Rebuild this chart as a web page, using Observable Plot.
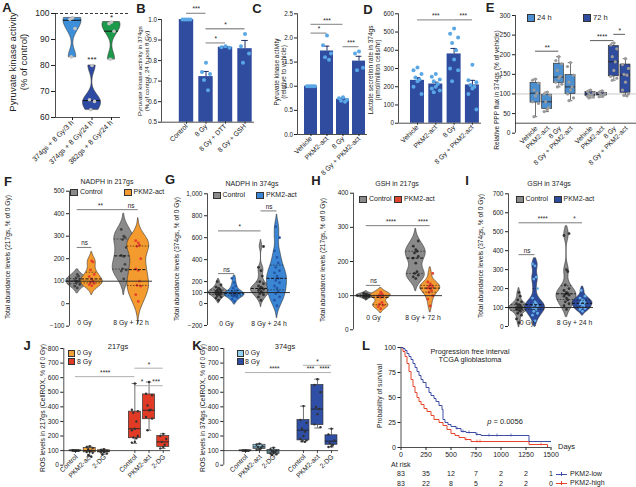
<!DOCTYPE html>
<html><head><meta charset="utf-8">
<script src="https://cdn.jsdelivr.net/npm/d3@7"></script>
<script src="https://cdn.jsdelivr.net/npm/@observablehq/plot@0.6"></script>
<style>
body{margin:0;background:#fff;}
#fig{position:relative;width:636px;height:487px;overflow:hidden;background:#fff;font-family:"Liberation Sans",Arial,Helvetica,sans-serif;color:#222;}
#fig svg{position:absolute;left:0;top:0;overflow:visible;}
.t{position:absolute;white-space:pre;line-height:1.12;text-align:center;}
.sw{position:absolute;box-sizing:border-box;border:0.7px solid #333;}
</style></head><body><div id="fig"></div><script>
// ================= DATA =================
// A
const aCats = ["374gs + 8 Gy/3 h", "374gs + 8 Gy/24 h", "382gs + 8 Gy/24 h"];
const aPoints = [[98.3, 97.8, 94.2, 83.3], [80, 66.8, 66.2, 63], [96.7, 96.1, 93.2, 82.4]];
const aMedian = [97.4, 66.5, 93.2];
const aStars = ["", "***", "*"];
const aStarY = [0, 82.8, 99];
// B
const bCats = ["Control", "8 Gy", "8 Gy + DTT", "8 Gy + GSH"];
const bMeans = [1.0, 0.722, 0.865, 0.858];
const bErr = [0, 0.025, 0.004, 0.04];
const bPoints = [[1, 1, 1, 1, 1], [0.79, 0.745, 0.735, 0.705, 0.655], [0.87, 0.865, 0.862], [0.93, 0.87, 0.835, 0.79]];
const bSig = [[0, 1, 1.03, "***"], [1, 2, 0.886, "*"], [1, 3, 0.955, "*"]];
// C
const cCats = ["Vehicle", "PKM2-act", "8 Gy", "8 Gy + PKM2-act"];
const cMeans = [1.0, 1.73, 0.73, 1.52];
const cErr = [0, 0.1, 0.02, 0.1];
const cPoints = [[1, 1, 1, 1, 1], [2.05, 1.85, 1.68, 1.6, 1.55], [0.77, 0.75, 0.72, 0.7, 0.68], [1.72, 1.68, 1.38, 1.33]];
const cSig = [[0, 1, 2.1, "*"], [0, 2, 2.28, "***"], [2, 3, 1.82, "***"]];
// D
const dCats = ["Vehicle", "PKM2-act", "8 Gy", "8 Gy + PKM2-act"];
const dMeans = [235, 215, 380, 210];
const dErr = [15, 10, 30, 25];
const dPoints = [[305, 290, 270, 250, 240, 230, 200, 160], [270, 255, 240, 230, 215, 200, 190, 180, 170], [520, 490, 470, 440, 400, 350, 300, 290, 230], [320, 235, 225, 210, 200, 190, 160, 75]];
const dSig = [[0, 2, 567, "***"], [2, 3, 567, "***"]];
// E
const eCats = ["Vehicle", "PKM2-act", "8 Gy", "8 Gy + PKM2-act"];
const eGroups = ["24 h", "72 h"];
const eMin = [42, 55, 118, 83, 90, 92, 135, 95];
const eQ1 = [78, 62, 128, 100, 95, 96, 145, 103];
const eMed = [102, 80, 143, 118, 100, 99, 182, 148];
const eQ3 = [128, 98, 177, 148, 105, 103, 222, 175];
const eMax = [138, 105, 195, 180, 110, 108, 230, 190];
const ePoints = [[138, 135, 128, 110, 102, 95, 80, 76, 42], [105, 100, 97, 80, 65, 60, 55], [195, 185, 177, 160, 145, 140, 130, 125, 118], [180, 170, 148, 130, 118, 110, 100, 90, 83],
  [110, 106, 103, 100, 98, 96, 94, 92, 90], [108, 104, 101, 99, 97, 95, 93], [230, 225, 215, 195, 182, 160, 145, 140, 135], [190, 175, 165, 150, 148, 130, 110, 100, 97, 95]];
const eSig = [[0, 2, 209, "**"], [4, 6, 236, "****"], [6, 7, 252, "*"]];
// F-I (violins: 0 Gy Control, 0 Gy PKM2-act, 8 Gy Control, 8 Gy PKM2-act)
const series2 = ["Control", "PKM2-act"];
const groups72 = ["0 Gy", "8 Gy + 72 h"];
const groups24 = ["0 Gy", "8 Gy + 24 h"];
const fPoints = [[70, 78, 85, 92, 98, 100, 104, 108, 115, 122, 130], [80, 85, 90, 95, 100, 110, 120, 130, 150, 185, 190],
  [110, 145, 150, 155, 175, 210, 215, 250, 285, 295, 300, 330], [10, 40, 78, 82, 100, 148, 155, 200, 255, 260, 270, 280]];
const fSig = [[0, 1, 250, "ns"], [0, 2, 418, "**"], [2, 3, 418, "ns"]];
const gPoints = [[30, 50, 60, 70, 80, 85, 90, 95, 100, 100, 105, 110, 115, 120, 130, 140, 150, 170, 200], [20, 40, 55, 65, 70, 75, 80, 85, 90, 95, 100, 110, 120, 140, 160, 190, 230],
  [30, 60, 80, 90, 100, 110, 120, 130, 135, 140, 150, 160, 180, 200, 250, 300, 330, 520], [-20, 30, 60, 90, 110, 140, 160, 190, 210, 230, 250, 280, 300, 330, 370, 420, 480, 600, 700]];
const gSig = [[0, 1, 273, "ns"], [0, 2, 662, "*"], [2, 3, 844, "ns"]];
const hPoints = [[92, 95, 97, 98, 99, 100, 100, 101, 102, 103, 105, 107], [62, 68, 72, 75, 80, 95, 98, 100, 102, 105, 110],
  [150, 155, 160, 165, 170, 195, 210, 215, 225, 230, 235, 245, 260], [70, 90, 100, 110, 115, 120, 122, 125, 128, 130, 135, 140, 165]];
const hSig = [[0, 1, 130, "ns"], [0, 2, 305, "****"], [2, 3, 305, "****"]];
const iPoints = [[20, 40, 60, 70, 80, 85, 90, 92, 95, 98, 100, 100, 102, 105, 110, 115, 120, 130, 140, 160, 180], [30, 60, 70, 80, 90, 95, 100, 110, 115, 120, 130, 150, 200, 250, 260, 320, 330],
  [90, 110, 120, 130, 140, 150, 160, 165, 170, 175, 180, 190, 200, 220, 290, 300, 480, 490], [80, 90, 95, 100, 110, 115, 120, 125, 130, 135, 140, 150, 160, 190]];
const iSig = [[0, 1, 379, "ns"], [0, 2, 547, "****"], [2, 3, 547, "*"]];
// J, K
const roCats = ["Control", "PKM2-act", "2-DG"];
const roDoses = ["0 Gy", "8 Gy"];
const jMin = [95, 60, 75, 150, 240, 115];
const jQ1 = [98, 88, 88, 185, 315, 125];
const jMed = [100, 100, 95, 250, 377, 160];
const jQ3 = [102, 118, 102, 367, 485, 200];
const jMax = [105, 130, 110, 560, 570, 215];
const jPoints = [[100, 100, 99, 101, 100, 98, 102, 100], [130, 125, 118, 110, 100, 95, 90, 85, 70, 60], [110, 105, 100, 98, 95, 90, 88, 80, 75],
  [560, 380, 370, 360, 300, 250, 240, 200, 190, 185, 160, 155], [570, 490, 480, 410, 380, 375, 330, 320, 240], [215, 200, 180, 160, 140, 125, 115]];
const jSig = [[0, 3, 607, "****"], [3, 4, 545, "*"], [4, 5, 545, "***"], [3, 5, 665, "*"]];
const kMin = [96, 105, 70, 160, 255, 125];
const kQ1 = [98, 112, 78, 170, 275, 140];
const kMed = [100, 125, 90, 240, 385, 165];
const kQ3 = [102, 140, 105, 310, 550, 205];
const kMax = [104, 148, 120, 405, 590, 250];
const kPoints = [[100, 100, 99, 101, 100, 100], [148, 140, 130, 125, 118, 110, 105], [120, 110, 100, 95, 90, 85, 80, 75, 70],
  [405, 310, 290, 250, 230, 200, 180, 170, 165, 160], [590, 550, 500, 400, 385, 350, 280, 260], [250, 210, 170, 150, 140, 130, 125]];
const kSig = [[0, 3, 635, "****"], [3, 4, 635, "***"], [4, 5, 635, "****"], [3, 5, 685, "*"]];
// L
const kmLowDays = [0, 20, 40, 60, 80, 100, 120, 140, 160, 180, 200, 220, 250, 280, 300, 330, 350, 380, 410, 420, 440, 470, 500, 550, 600, 650, 750, 800, 1280, 1500];
const kmLowSurv = [100, 99, 97, 94, 91, 88, 84, 80, 76, 72, 68, 65, 60, 55, 52, 49, 46, 42, 38, 28, 25, 23, 21, 19, 16, 15, 13, 12, 6, 6];
const kmHighDays = [0, 20, 40, 60, 80, 100, 120, 140, 160, 180, 200, 230, 260, 300, 330, 380, 420, 460, 500, 540, 580, 640, 700, 1280, 1465];
const kmHighSurv = [100, 96, 91, 84, 76, 68, 61, 55, 50, 46, 43, 39, 36, 32, 28, 25, 22, 18, 14, 12, 10, 8, 6, 3, 0];
const kmLowCensor = [560, 620, 680, 760, 880, 960, 1100];
const kmHighCensor = [650, 760, 790, 1400];
const riskDays = [0, 250, 500, 750, 1000, 1250, 1500];
const riskLow = [83, 35, 12, 7, 2, 2, 1];
const riskHigh = [83, 22, 8, 5, 2, 2, 0];

// ================= HELPERS =================
const W = 636, H = 487;
const FONT = '"Liberation Sans", Arial, Helvetica, sans-serif';
const fig = document.getElementById("fig");
const jit = k => [0, -1, 1, -0.5, 0.5][k % 5];

function plotAt(frame, xd, yd, marks, fs = 6.5) {
  const [x0, y0, x1, y1] = frame;
  const svg = Plot.plot({
    width: W, height: H,
    marginLeft: x0, marginRight: W - x1, marginTop: y0, marginBottom: H - y1,
    x: {domain: xd, axis: null},
    y: {domain: yd, axis: null},
    style: {background: "transparent", overflow: "visible", fontFamily: FONT, fontSize: fs + "px", color: "#222"},
    marks: marks.flat()
  });
  svg.style.position = "absolute"; svg.style.left = "0px"; svg.style.top = "0px";
  fig.appendChild(svg);
}
function txt(s, x, y, o = {}) {
  const d = document.createElement("div");
  d.className = "t";
  d.textContent = s;
  d.style.left = x + "px"; d.style.top = y + "px";
  d.style.fontSize = (o.size || 7) + "px";
  if (o.bold) d.style.fontWeight = "bold";
  if (o.lh) d.style.lineHeight = o.lh;
  const tx = o.anchor === "start" ? "0" : o.anchor === "end" ? "-100%" : "-50%";
  d.style.transform = `translate(${tx},-50%)` + (o.rot ? " rotate(-90deg)" : "");
  if (o.html) d.innerHTML = s;
  fig.appendChild(d);
}
function sw(cx, cy, color, w = 8, h = 7) {
  const d = document.createElement("div");
  d.className = "sw";
  Object.assign(d.style, {left: (cx - w / 2) + "px", top: (cy - h / 2) + "px", width: w + "px", height: h + "px", background: color});
  fig.appendChild(d);
}
function lin(x0, x1, c0, step) { return [(x0 - c0) / step, (x1 - c0) / step]; }
function dens(vals, bw, y) { let s = 0; for (const v of vals) { const z = (y - v) / bw; s += Math.exp(-0.5 * z * z); } return s; }
function violin(vals, pos, hw, bw, ext, fill) {
  const lo = d3.min(vals) - ext * bw, hi = d3.max(vals) + ext * bw, n = 90;
  const pts = d3.range(n + 1).map(k => { const y = lo + (hi - lo) * k / n; return {y, d: dens(vals, bw, y)}; });
  const m = d3.max(pts, p => p.d);
  return {
    mark: Plot.areaX(pts, {y: "y", x1: p => pos - hw * p.d / m, x2: p => pos + hw * p.d / m, fill, stroke: "#333", strokeWidth: 0.6}),
    at: y => dens(vals, bw, y) / m
  };
}
function sigMarks(list, pos, stroke, sw, fs, dy = -3.5) {
  return [
    Plot.ruleY(list, {y: d => d[2], x1: d => pos(d[0]), x2: d => pos(d[1]), stroke, strokeWidth: sw}),
    Plot.text(list, {x: d => (pos(d[0]) + pos(d[1])) / 2, y: d => d[2], text: d => d[3], dy, fontSize: fs, fill: "#222"})
  ];
}

// ================= PANEL A =================
{
  const frame = [55, 13, 120, 117], step = 19.5;
  const xd = lin(frame[0], frame[2], 72, step);
  const hw = 9 / step;
  const colors = ["#3d8fd9", "#2e4aa3", "#1c9a4b"];
  const marks = [];
  aPoints.forEach((vals, i) => {
    const v = violin(vals, i, hw, 2.6, 0, colors[i]);
    marks.push(v.mark);
    const w = hw * v.at(aMedian[i]);
    marks.push(Plot.ruleY([aMedian[i]], {x1: i - w, x2: i + w, stroke: "#111", strokeWidth: 1}));
    marks.push(Plot.dot(vals, {x: (d, k) => i + jit(k) * 2.5 / step, y: d => d, r: 1.8, fill: "#c4c4c4"}));
  });
  marks.push(Plot.ruleY([100], {x1: xd[0], x2: (128 - 72) / step, stroke: "#222", strokeWidth: 0.9, strokeDasharray: "3,2"}));
  marks.push(Plot.ruleX([xd[0]], {y1: 60, y2: 100, stroke: "#222", strokeWidth: 0.8}));
  marks.push(Plot.ruleY([60], {x1: xd[0], x2: xd[1], stroke: "#222", strokeWidth: 0.8}));
  marks.push(Plot.axisY({ticks: [60, 70, 80, 90, 100], tickSize: 4, tickPadding: 2, fontSize: 8.5, label: null}));
  marks.push(Plot.axisX({ticks: [0, 1, 2], tickFormat: i => aCats[i], tickRotate: -45, tickSize: 3, tickPadding: 1, fontSize: 7.2, label: null}));
  marks.push(Plot.text(aStars, {x: (d, i) => i, y: (d, i) => aStarY[i], text: d => d, fontSize: 8, dy: 1}));
  plotAt(frame, xd, [60, 100], marks, 8);
  txt("Pyruvate kinase activity\n(% of control)", 19, 62, {size: 9.5, rot: true});
  txt("A", 7, 8, {size: 13, bold: true});
}

// ================= BAR PANELS B, C, D =================
function barPanel(c) {
  const xd = lin(c.frame[0], c.frame[2], c.c0, c.step);
  const h = c.bw / c.step;
  const pos = i => i;
  const idx = c.cats.map((_, i) => i);
  const marks = [
    Plot.rect(idx, {x1: i => i - h, x2: i => i + h, y1: c.yd[0], y2: i => c.means[i], fill: "#2f4c9f"}),
    Plot.ruleX(idx.filter(i => c.err[i] > 0), {x: i => i, y1: i => c.means[i], y2: i => c.means[i] + c.err[i], stroke: "#1e2f66", strokeWidth: 1}),
    Plot.ruleY(idx.filter(i => c.err[i] > 0), {y: i => c.means[i] + c.err[i], x1: i => i - h * 0.45, x2: i => i + h * 0.45, stroke: "#1e2f66", strokeWidth: 1}),
  ];
  c.points.forEach((vals, i) => marks.push(Plot.dot(vals, {x: (d, k) => i + jit(k) * 4 / c.step, y: d => d, r: 2, fill: "#5aa7e6"})));
  marks.push(sigMarks(c.sig, pos, "#9a9a9a", 1.3, 6.5, -4));
  marks.push(Plot.ruleX([xd[0]], {y1: c.yd[0], y2: c.yd[1], stroke: "#222", strokeWidth: 0.8}));
  marks.push(Plot.ruleY([c.yd[0]], {x1: xd[0], x2: xd[1], stroke: "#222", strokeWidth: 0.8}));
  marks.push(Plot.axisY({ticks: c.ticks, tickFormat: c.fmt, tickSize: 3, tickPadding: 1.5, fontSize: 6.3, label: null}));
  marks.push(Plot.axisX({ticks: idx, tickFormat: i => c.cats[i], tickRotate: -45, tickSize: 2, tickPadding: 1, fontSize: 6.8, label: null}));
  plotAt(c.frame, xd, c.yd, marks);
  txt(c.ylab, c.ylabXY[0], c.ylabXY[1], {size: c.ylabSize, rot: true, lh: 1.08});
  txt(c.letter, c.letterXY[0], c.letterXY[1], {size: 13, bold: true});
}
barPanel({cats: bCats, means: bMeans, err: bErr, points: bPoints, sig: bSig, frame: [161, 19, 254, 121.7], c0: 186, step: 19.5, bw: 7.2,
  yd: [0.5, 1.0], ticks: [0.5, 0.6, 0.7, 0.8, 0.9, 1.0], fmt: d3.format(".1f"),
  ylab: "Pyruvate kinase activity in 374gs\n(% of control, 24 h post 8 Gy)", ylabXY: [144, 71], ylabSize: 6.2, letter: "B", letterXY: [141, 9]});
barPanel({cats: cCats, means: cMeans, err: cErr, points: cPoints, sig: cSig, frame: [297, 13.3, 367, 134], c0: 310.5, step: 16, bw: 6.5,
  yd: [0, 2.5], ticks: [0, 0.5, 1, 1.5, 2, 2.5], fmt: d3.format(".1f"),
  ylab: "Pyruvate kinase activity\n(relative to vehicle)", ylabXY: [281, 72], ylabSize: 6.4, letter: "C", letterXY: [257, 9]});
barPanel({cats: dCats, means: dMeans, err: dErr, points: dPoints, sig: dSig, frame: [398, 13.3, 481, 122.7], c0: 417, step: 18.3, bw: 7,
  yd: [0, 600], ticks: [0, 100, 200, 300, 400, 500, 600], fmt: d3.format("d"),
  ylab: "Lactate secretion rate in 374gs\n(nmol/million cells/hr)", ylabXY: [374, 70], ylabSize: 6.5, letter: "D", letterXY: [368, 10]});

// ================= BOX PANELS E, J, K =================
function boxPanel(c) {
  const xd = lin(c.frame[0], c.frame[2], c.c0, c.step);
  const n = c.cats.length;
  const pos = k => k < n ? k : k + c.gap;
  const idx = c.min.map((_, k) => k);
  const h = c.bw / c.step, cap = h * 0.45;
  const fillOf = k => c.colors[k < n ? 0 : 1];
  const marks = [];
  if (c.refLine) marks.push(Plot.ruleY([100], {x1: xd[0], x2: xd[1], stroke: "#bbb", strokeWidth: 0.8}));
  marks.push(
    Plot.ruleX(idx, {x: pos, y1: k => c.min[k], y2: k => c.q1[k], stroke: "#333", strokeWidth: 0.7}),
    Plot.ruleX(idx, {x: pos, y1: k => c.q3[k], y2: k => c.max[k], stroke: "#333", strokeWidth: 0.7}),
    Plot.ruleY(idx, {y: k => c.min[k], x1: k => pos(k) - cap, x2: k => pos(k) + cap, stroke: "#333", strokeWidth: 0.7}),
    Plot.ruleY(idx, {y: k => c.max[k], x1: k => pos(k) - cap, x2: k => pos(k) + cap, stroke: "#333", strokeWidth: 0.7}),
    Plot.rect(idx, {x1: k => pos(k) - h, x2: k => pos(k) + h, y1: k => c.q1[k], y2: k => c.q3[k], fill: fillOf, stroke: "#333", strokeWidth: 0.7}),
    Plot.ruleY(idx, {y: k => c.med[k], x1: k => pos(k) - h, x2: k => pos(k) + h, stroke: "#222", strokeWidth: 0.9})
  );
  c.points.forEach((vals, k) => marks.push(Plot.dot(vals, {x: (d, i) => pos(k) + jit(i) * 3 / c.step, y: d => d, r: c.dotR, fill: c.dotFill})));
  marks.push(sigMarks(c.sig, pos, c.sigStroke, c.sigW, 6.5, -3.5));
  marks.push(Plot.ruleX([xd[0]], {y1: c.yd[0], y2: c.yd[1], stroke: "#222", strokeWidth: 0.8}));
  marks.push(Plot.ruleY([c.axisAt], {x1: xd[0], x2: xd[1], stroke: "#222", strokeWidth: 0.8}));
  marks.push(Plot.ruleX(idx, {x: pos, y1: c.axisAt, y2: c.axisAt - c.tickLen, stroke: "#222", strokeWidth: 0.8}));
  marks.push(Plot.text(idx, {x: pos, y: c.axisAt, text: k => c.cats[k % n], rotate: -45, textAnchor: "end", dy: c.labDy, dx: 1, fontSize: 6.8}));
  marks.push(Plot.axisY({ticks: c.ticks, tickSize: 3, tickPadding: 2, fontSize: 6.6, label: null}));
  plotAt(c.frame, xd, c.yd, marks);
}
boxPanel({cats: eCats, min: eMin, q1: eQ1, med: eMed, q3: eQ3, max: eMax, points: ePoints, sig: eSig,
  frame: [515, 15, 636, 132.7], c0: 535, step: 11.67, gap: 0.71, bw: 5, colors: ["#4b8fd0", "#2f4c9f"],
  yd: [0, 300], ticks: [0, 50, 100, 150, 200, 250, 300], refLine: true, axisAt: 25.5, tickLen: 0, labDy: 4,
  dotR: 1.6, dotFill: "#9a9a9a", sigStroke: "#333", sigW: 0.8});
txt("Relative PPP flux in 374gs (% of vehicle)", 497, 90, {size: 6.6, rot: true});
txt("E", 490, 8, {size: 13, bold: true});
sw(530.5, 18.3, "#4b8fd0", 8, 8); txt("24 h", 537, 18.3, {size: 7.5, anchor: "start"});
sw(586.5, 18.3, "#2f4c9f", 8, 8); txt("72 h", 593, 18.3, {size: 7.5, anchor: "start"});

boxPanel({cats: roCats, min: jMin, q1: jQ1, med: jMed, q3: jQ3, max: jMax, points: jPoints, sig: jSig,
  frame: [63.3, 348, 170, 464.7], c0: 75, step: 14.2, gap: 1.18, bw: 6, colors: ["#f2a03a", "#e23b25"],
  yd: [0, 800], ticks: [0, 100, 200, 300, 400, 500, 600, 700, 800], refLine: false, axisAt: 100, tickLen: 20, labDy: 5,
  dotR: 1.2, dotFill: "#333", sigStroke: "#9a9a9a", sigW: 0.8});
txt("ROS levels in 217gs (CellROX, % of 0 Gy)", 43, 408, {size: 6.8, rot: true});
txt("J", 27, 346, {size: 13, bold: true});
txt("217gs", 118, 347, {size: 7.5});
sw(71.5, 353, "#f2a03a", 7, 7); txt("0 Gy", 77, 353, {size: 7, anchor: "start"});
sw(71.5, 361.5, "#e23b25", 7, 7); txt("8 Gy", 77, 361.5, {size: 7, anchor: "start"});

boxPanel({cats: roCats, min: kMin, q1: kQ1, med: kMed, q3: kQ3, max: kMax, points: kPoints, sig: kSig,
  frame: [223.3, 348, 338, 464.7], c0: 245, step: 14, gap: 1.14, bw: 6, colors: ["#8fd1ef", "#2f4ea5"],
  yd: [0, 800], ticks: [0, 100, 200, 300, 400, 500, 600, 700, 800], refLine: false, axisAt: 100, tickLen: 20, labDy: 5,
  dotR: 1.2, dotFill: "#333", sigStroke: "#9a9a9a", sigW: 0.8});
txt("ROS levels in 374gs (CellROX, % of 0 Gy)", 203, 408, {size: 6.8, rot: true});
txt("K", 197, 346, {size: 13, bold: true});
txt("374gs", 285, 347, {size: 7.5});
sw(240, 353, "#8fd1ef", 7, 7); txt("0 Gy", 245, 353, {size: 7, anchor: "start"});
sw(240, 361.5, "#2f4ea5", 7, 7); txt("8 Gy", 245, 361.5, {size: 7, anchor: "start"});

// ================= VIOLIN PANELS F-I =================
const row2 = [
  {letter: "F", title: "NADPH in 217gs", frame: [69, 190.7, 152, 325.7], g: [84, 130.5], off: 7.25, hw: 11, yd: [-100, 500], ticks: [-100, 0, 100, 200, 300, 400, 500],
    pts: fPoints, bw: [15, 20, 35, 40], ext: [1.5, 2, 2, 2.5], sig: fSig, groups: groups72, fills: ["#8a8a8a", "#f39b2f"], dots: ["#444", "#e5412b"], swatch: ["#8a8a8a", "#f39b2f"],
    labelY: 322, ylab: "Total abundance levels (217gs, % of 0 Gy)", ylabXY: [8, 257], titleXY: [107, 182], leg: [[74, 192], [127.5, 192]], letterXY: [8, 182]},
  {letter: "G", title: "NADPH in 374gs", frame: [207, 193.3, 290, 325], g: [226, 268.5], off: 8, hw: 10, yd: [-200, 1000], ticks: [-200, 0, 100, 200, 400, 600, 800, 1000],
    pts: gPoints, bw: [20, 22, 30, 55], ext: [1.2, 1.2, 2, 2], sig: gSig, groups: groups24, fills: ["#8a8a8a", "#3b86d4"], dots: ["#333", "#2457a8"], swatch: ["#8a8a8a", "#3b86d4"],
    labelY: 323, ylab: "Total abundance levels (374gs, % of 0 Gy)", ylabXY: [177, 259], titleXY: [252, 184], leg: [[216.5, 195], [260, 195]], letterXY: [170, 180]},
  {letter: "H", title: "GSH in 217gs", frame: [353, 192.7, 442, 329.3], g: [373, 422.5], off: 7.25, hw: 10, yd: [0, 400], ticks: [0, 100, 200, 300, 400],
    pts: hPoints, bw: [4, 8, 18, 12], ext: [1.5, 1.5, 2, 1.5], sig: hSig, groups: groups72, fills: ["#8a8a8a", "#f29a35"], dots: ["#333", "#e23f2a"], swatch: ["#8a8a8a", "#e2452d"],
    labelY: 317, ylab: "Total abundance levels (217gs, % of 0 Gy)", ylabXY: [323, 260], titleXY: [397, 184], leg: [[363, 199], [398, 199]], letterXY: [316, 181]},
  {letter: "I", title: "GSH in 374gs", frame: [508, 193.3, 593, 326], g: [526.5, 574], off: 8, hw: 10, yd: [0, 700], ticks: [0, 100, 200, 300, 400, 500, 600, 700],
    pts: iPoints, bw: [15, 25, 30, 14], ext: [1.5, 1.2, 1.3, 1.5], sig: iSig, groups: groups24, fills: ["#8a8a8a", "#2d4b9c"], dots: ["#333", "#64aee6"], swatch: ["#8a8a8a", "#2d4b9c"],
    labelY: 322, ylab: "Total abundance levels (374gs, % of 0 Gy)", ylabXY: [481, 256], titleXY: [549, 184], leg: [[519.5, 199], [557.5, 199]], letterXY: [467, 181]}
];
row2.forEach(c => {
  const [x0, y0, x1, y1] = c.frame;
  const u = c.g[1] - c.g[0];
  const xd = [(x0 - c.g[0]) / u, (x1 - c.g[0]) / u];
  const off = c.off / u, hw = c.hw / u, jw = 2.5 / u;
  const pos = k => Math.floor(k / 2) + (k % 2 ? off : -off);
  const marks = [];
  c.pts.forEach((vals, k) => {
    const v = violin(vals, pos(k), hw, c.bw[k], c.ext[k], c.fills[k % 2]);
    marks.push(v.mark);
    marks.push(Plot.dot(vals, {x: (d, i) => pos(k) + jit(i) * jw, y: d => d, r: 1.4, fill: c.dots[k % 2]}));
    const sorted = [...vals].sort(d3.ascending);
    [0.25, 0.5, 0.75].forEach((p, j) => {
      const q = d3.quantile(sorted, p), w = hw * v.at(q);
      marks.push(Plot.ruleY([q], {x1: pos(k) - w, x2: pos(k) + w, stroke: "#111", strokeWidth: j === 1 ? 1 : 0.6, strokeDasharray: j === 1 ? "3,1.5" : "1.5,1.5"}));
    });
  });
  marks.push(Plot.ruleY([100], {x1: xd[0], x2: xd[1], stroke: "#222", strokeWidth: 0.9}));
  marks.push(sigMarks(c.sig, pos, "#444", 0.7, 6.3, -4));
  marks.push(Plot.ruleX([xd[0]], {y1: c.yd[0], y2: c.yd[1], stroke: "#222", strokeWidth: 0.8}));
  marks.push(Plot.axisY({ticks: c.ticks, tickSize: 3, tickPadding: 2, fontSize: 6.5, label: null}));
  marks.push(Plot.text(c.groups, {x: (d, i) => i, y: c.yd[0], text: d => d, dy: c.labelY - y1, fontSize: 6.8}));
  plotAt(c.frame, xd, c.yd, marks);
  txt(c.ylab, c.ylabXY[0], c.ylabXY[1], {size: 6.6, rot: true});
  txt(c.title, c.titleXY[0], c.titleXY[1], {size: 7});
  txt(c.letter, c.letterXY[0], c.letterXY[1], {size: 13, bold: true});
  series2.forEach((s, i) => {
    sw(c.leg[i][0], c.leg[i][1], c.swatch[i], 8, 7);
    txt(s, c.leg[i][0] + 6, c.leg[i][1], {size: 7, anchor: "start"});
  });
});

// ================= PANEL L =================
{
  const frame = [400.5, 347, 550.5, 447];
  const low = kmLowDays.map((d, i) => ({d, s: kmLowSurv[i]}));
  const high = kmHighDays.map((d, i) => ({d, s: kmHighSurv[i]}));
  const survAt = (days, surv, t) => { let s = surv[0]; days.forEach((d, i) => { if (d <= t) s = surv[i]; }); return s; };
  const blue = "#3e4ea8", red = "#e6452c";
  const marks = [
    Plot.line(high, {x: "d", y: "s", curve: "step-after", stroke: red, strokeWidth: 1}),
    Plot.line(low, {x: "d", y: "s", curve: "step-after", stroke: blue, strokeWidth: 1}),
    Plot.ruleX(kmLowCensor, {x: d => d, y1: d => survAt(kmLowDays, kmLowSurv, d) - 1.5, y2: d => survAt(kmLowDays, kmLowSurv, d) + 1.5, stroke: blue, strokeWidth: 0.7}),
    Plot.ruleX(kmHighCensor, {x: d => d, y1: d => survAt(kmHighDays, kmHighSurv, d) - 1.5, y2: d => survAt(kmHighDays, kmHighSurv, d) + 1.5, stroke: red, strokeWidth: 0.7}),
    Plot.ruleX([0], {y1: 0, y2: 100, stroke: "#222", strokeWidth: 0.8}),
    Plot.ruleY([0], {x1: 0, x2: 1500, stroke: "#222", strokeWidth: 0.8}),
    Plot.axisY({ticks: [0, 25, 50, 75, 100], tickSize: 3, tickPadding: 2, fontSize: 7, label: null}),
    Plot.axisX({ticks: riskDays, tickFormat: d3.format("d"), tickSize: 3, tickPadding: 2, fontSize: 7, label: null}),
    Plot.text(riskLow, {x: (d, i) => riskDays[i], y: 0, text: d => String(d), dy: 26.7, fontSize: 7}),
    Plot.text(riskHigh, {x: (d, i) => riskDays[i], y: 0, text: d => String(d), dy: 36, fontSize: 7})
  ];
  plotAt(frame, [0, 1500], [0, 100], marks, 7);
  txt("Probability of survival", 380, 396, {size: 6.8, rot: true});
  txt("L", 366, 346, {size: 13, bold: true});
  txt("Progression free interval\nTCGA glioblastoma", 470, 355.5, {size: 7.3});
  txt("<i>p</i> = 0.0056", 505, 422, {size: 7.5, html: true});
  txt("Days", 558, 447, {size: 7.5, anchor: "start"});
  txt("At risk", 391, 465, {size: 7, anchor: "start"});
  [[474, blue, "PKM2-low"], [483, red, "PKM2-high"]].forEach(([y, col, name]) => {
    const l = document.createElement("div");
    Object.assign(l.style, {position: "absolute", left: "556px", top: (y - 0.5) + "px", width: "11px", height: "0", borderTop: "1px solid " + col});
    fig.appendChild(l);
    const t = document.createElement("div");
    Object.assign(t.style, {position: "absolute", left: "561px", top: (y - 2) + "px", width: "0", height: "3.5px", borderLeft: "1px solid " + col});
    fig.appendChild(t);
    txt(name, 570, y, {size: 7, anchor: "start"});
  });
}
</script></body></html>
